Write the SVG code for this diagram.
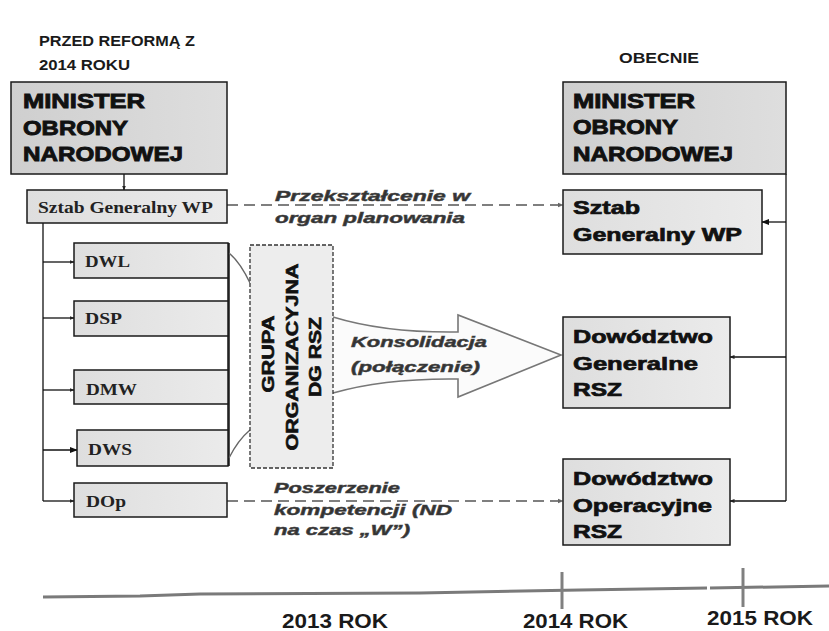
<svg xmlns="http://www.w3.org/2000/svg" width="829" height="631" viewBox="0 0 829 631">
<defs>
<linearGradient id="gMin" x1="0" y1="0" x2="1" y2="0"><stop offset="0" stop-color="#cfcfcf"/><stop offset="1" stop-color="#dedede"/></linearGradient>
<linearGradient id="gBox" x1="0" y1="0" x2="1" y2="0"><stop offset="0" stop-color="#dedede"/><stop offset="1" stop-color="#ebebeb"/></linearGradient>
<marker id="ah" viewBox="0 0 10 10" refX="9" refY="5" markerWidth="5" markerHeight="5" orient="auto" markerUnits="userSpaceOnUse"><path d="M0,1 L10,5 L0,9 z" fill="#222"/></marker>
<marker id="ahg" viewBox="0 0 10 10" refX="9" refY="5" markerWidth="6" markerHeight="6" orient="auto" markerUnits="userSpaceOnUse"><path d="M0,1 L10,5 L0,9 z" fill="#666"/></marker>
<marker id="ahb" viewBox="0 0 10 10" refX="9" refY="5" markerWidth="8" markerHeight="8" orient="auto" markerUnits="userSpaceOnUse"><path d="M0,1 L10,5 L0,9 z" fill="#111"/></marker>
</defs>
<style>
.min{fill:url(#gMin);stroke:#1a1a1a;stroke-width:1.5}
.box{fill:url(#gBox);stroke:#1a1a1a;stroke-width:1.5}
.hd{font-family:"Liberation Sans",Arial,sans-serif;font-weight:bold;fill:#1a1a1a}
.big{font-family:"Liberation Sans",Arial,sans-serif;font-weight:bold;font-size:21px;fill:#111;stroke:#111;stroke-width:0.9}
.bx{font-family:"Liberation Sans",Arial,sans-serif;font-weight:bold;font-size:19px;fill:#111;stroke:#111;stroke-width:0.7}
.ser{font-family:"Liberation Serif","Times New Roman",serif;font-weight:bold;font-size:17px;fill:#222}
.it{font-family:"Liberation Sans",Arial,sans-serif;font-weight:bold;font-style:italic;font-size:15px;fill:#333;stroke:#444;stroke-width:0.5}
.grp{font-family:"Liberation Sans",Arial,sans-serif;font-weight:bold;font-size:16px;fill:#111;stroke:#111;stroke-width:0.6}
.ln{fill:none;stroke:#111;stroke-width:1.3}
.dash{fill:none;stroke:#555;stroke-width:1.6;stroke-dasharray:11,6}
.tl{fill:none;stroke:#7a7a7a;stroke-width:3}
</style>
<rect x="0" y="0" width="829" height="631" fill="#ffffff"/>

<g id="headings">
<text class="hd" x="39" y="46" font-size="15" textLength="156" lengthAdjust="spacingAndGlyphs">PRZED REFORMĄ Z</text>
<text class="hd" x="39" y="70" font-size="15" textLength="91" lengthAdjust="spacingAndGlyphs">2014 ROKU</text>
<text class="hd" x="619" y="63" font-size="15" textLength="80" lengthAdjust="spacingAndGlyphs">OBECNIE</text>
</g>

<g id="connectors">
<line class="ln" x1="124" y1="174" x2="124" y2="190" marker-end="url(#ah)"/>
<polyline class="ln" points="43,223 43,501"/>
<line class="ln" x1="43" y1="262" x2="74" y2="262" marker-end="url(#ah)"/>
<line class="ln" x1="43" y1="318" x2="74" y2="318" marker-end="url(#ah)"/>
<line class="ln" x1="43" y1="390" x2="74" y2="390" marker-end="url(#ah)"/>
<line class="ln" x1="43" y1="450" x2="77" y2="450" marker-end="url(#ahb)"/>
<line class="ln" x1="43" y1="501" x2="74" y2="501" marker-end="url(#ah)"/>
<line x1="228.5" y1="243" x2="228.5" y2="466" stroke="#222" stroke-width="2.6"/>
<path d="M229,253 Q240,262 250,283" fill="none" stroke="#666" stroke-width="1.4"/>
<path d="M229,458 Q238,440 250,430" fill="none" stroke="#666" stroke-width="1.4"/>
<line class="dash" x1="227" y1="205" x2="563" y2="205" marker-end="url(#ahg)"/>
<line class="dash" x1="227" y1="501" x2="563" y2="501" marker-end="url(#ahg)"/>
<polyline class="ln" points="786,174 786,501"/>
<line class="ln" x1="786" y1="222" x2="762" y2="222" marker-end="url(#ahb)"/>
<line class="ln" x1="786" y1="357" x2="730" y2="357" marker-end="url(#ah)"/>
<line class="ln" x1="786" y1="501" x2="730" y2="501" marker-end="url(#ah)"/>
<path id="big-arrow" d="M333,317 Q385,333 458,332 L458,315 L561,355 L458,397 L458,379 Q385,378 333,393" fill="#fbfbfb" stroke="#777" stroke-width="1.6" stroke-linejoin="miter"/>
</g>

<g id="labels">
<text class="it" x="275" y="201" textLength="195" lengthAdjust="spacingAndGlyphs">Przekształcenie w</text>
<text class="it" x="275" y="223" textLength="190" lengthAdjust="spacingAndGlyphs">organ planowania</text>
<text class="it" x="351" y="347" font-size="16" textLength="136" lengthAdjust="spacingAndGlyphs">Konsolidacja</text>
<text class="it" x="351" y="372" font-size="16" textLength="129" lengthAdjust="spacingAndGlyphs">(połączenie)</text>
<text class="it" x="274" y="493" textLength="126" lengthAdjust="spacingAndGlyphs">Poszerzenie</text>
<text class="it" x="274" y="515" textLength="178" lengthAdjust="spacingAndGlyphs">kompetencji (ND</text>
<text class="it" x="274" y="535" textLength="136" lengthAdjust="spacingAndGlyphs">na czas „W”)</text>
</g>

<g id="minister-left">
<rect class="min" x="11" y="82" width="216" height="92"/>
<text class="big" x="23" y="108" textLength="122" lengthAdjust="spacingAndGlyphs">MINISTER</text>
<text class="big" x="23" y="135" textLength="105" lengthAdjust="spacingAndGlyphs">OBRONY</text>
<text class="big" x="23" y="161" textLength="160" lengthAdjust="spacingAndGlyphs">NARODOWEJ</text>
</g>
<g id="sztab-left">
<rect class="box" x="27" y="190" width="200" height="33"/>
<text class="ser" x="38" y="213" textLength="175" lengthAdjust="spacingAndGlyphs">Sztab Generalny WP</text>
</g>
<g id="dwl"><rect class="box" x="74" y="243" width="154" height="35"/><text class="ser" x="85" y="267" textLength="45" lengthAdjust="spacingAndGlyphs">DWL</text></g>
<g id="dsp"><rect class="box" x="74" y="301" width="154" height="35"/><text class="ser" x="85" y="324" textLength="37" lengthAdjust="spacingAndGlyphs">DSP</text></g>
<g id="dmw"><rect class="box" x="74" y="370" width="154" height="34"/><text class="ser" x="86" y="395" textLength="51" lengthAdjust="spacingAndGlyphs">DMW</text></g>
<g id="dws"><rect class="box" x="77" y="430" width="151" height="36"/><text class="ser" x="88" y="455" textLength="44" lengthAdjust="spacingAndGlyphs">DWS</text></g>
<g id="dop"><rect class="box" x="74" y="483" width="153" height="34"/><text class="ser" x="86" y="507" textLength="40" lengthAdjust="spacingAndGlyphs">DOp</text></g>

<g id="grupa">
<rect x="250" y="245" width="83" height="223" fill="#ededed" stroke="#333" stroke-width="1.3" stroke-dasharray="4,2"/>
<text class="grp" transform="translate(274,354) rotate(-90)" text-anchor="middle" textLength="77" lengthAdjust="spacingAndGlyphs">GRUPA</text>
<text class="grp" transform="translate(298,357) rotate(-90)" text-anchor="middle" textLength="187" lengthAdjust="spacingAndGlyphs">ORGANIZACYJNA</text>
<text class="grp" transform="translate(321,357) rotate(-90)" text-anchor="middle" textLength="80" lengthAdjust="spacingAndGlyphs">DG RSZ</text>
</g>

<g id="minister-right">
<rect class="min" x="563" y="82" width="223" height="92"/>
<text class="big" x="573" y="108" textLength="122" lengthAdjust="spacingAndGlyphs">MINISTER</text>
<text class="big" x="573" y="134" textLength="105" lengthAdjust="spacingAndGlyphs">OBRONY</text>
<text class="big" x="573" y="161" textLength="160" lengthAdjust="spacingAndGlyphs">NARODOWEJ</text>
</g>
<g id="sztab-right">
<rect class="box" x="563" y="190" width="199" height="64"/>
<text class="bx" x="573" y="214" textLength="67" lengthAdjust="spacingAndGlyphs">Sztab</text>
<text class="bx" x="573" y="241" textLength="169" lengthAdjust="spacingAndGlyphs">Generalny WP</text>
</g>
<g id="dg-rsz">
<rect class="box" x="563" y="317" width="167" height="91"/>
<text class="bx" x="573" y="343" textLength="140" lengthAdjust="spacingAndGlyphs">Dowództwo</text>
<text class="bx" x="573" y="370" textLength="125" lengthAdjust="spacingAndGlyphs">Generalne</text>
<text class="bx" x="573" y="396" textLength="49" lengthAdjust="spacingAndGlyphs">RSZ</text>
</g>
<g id="do-rsz">
<rect class="box" x="563" y="459" width="167" height="86"/>
<text class="bx" x="573" y="485" textLength="140" lengthAdjust="spacingAndGlyphs">Dowództwo</text>
<text class="bx" x="573" y="512" textLength="139" lengthAdjust="spacingAndGlyphs">Operacyjne</text>
<text class="bx" x="573" y="538" textLength="49" lengthAdjust="spacingAndGlyphs">RSZ</text>
</g>

<g id="timeline">
<path class="tl" d="M43,597 L140,596 L200,594 L420,593 L580,590 L707,588 M710,588 L829,586"/>
<line x1="562" y1="572" x2="562" y2="609" stroke="#808080" stroke-width="3"/>
<line x1="743" y1="568" x2="743" y2="607" stroke="#808080" stroke-width="3"/>
<text class="hd" x="282" y="628" font-size="21" textLength="106" lengthAdjust="spacingAndGlyphs">2013 ROK</text>
<text class="hd" x="523" y="628" font-size="21" textLength="105" lengthAdjust="spacingAndGlyphs">2014 ROK</text>
<text class="hd" x="707" y="625" font-size="21" textLength="106" lengthAdjust="spacingAndGlyphs">2015 ROK</text>
</g>
</svg>
